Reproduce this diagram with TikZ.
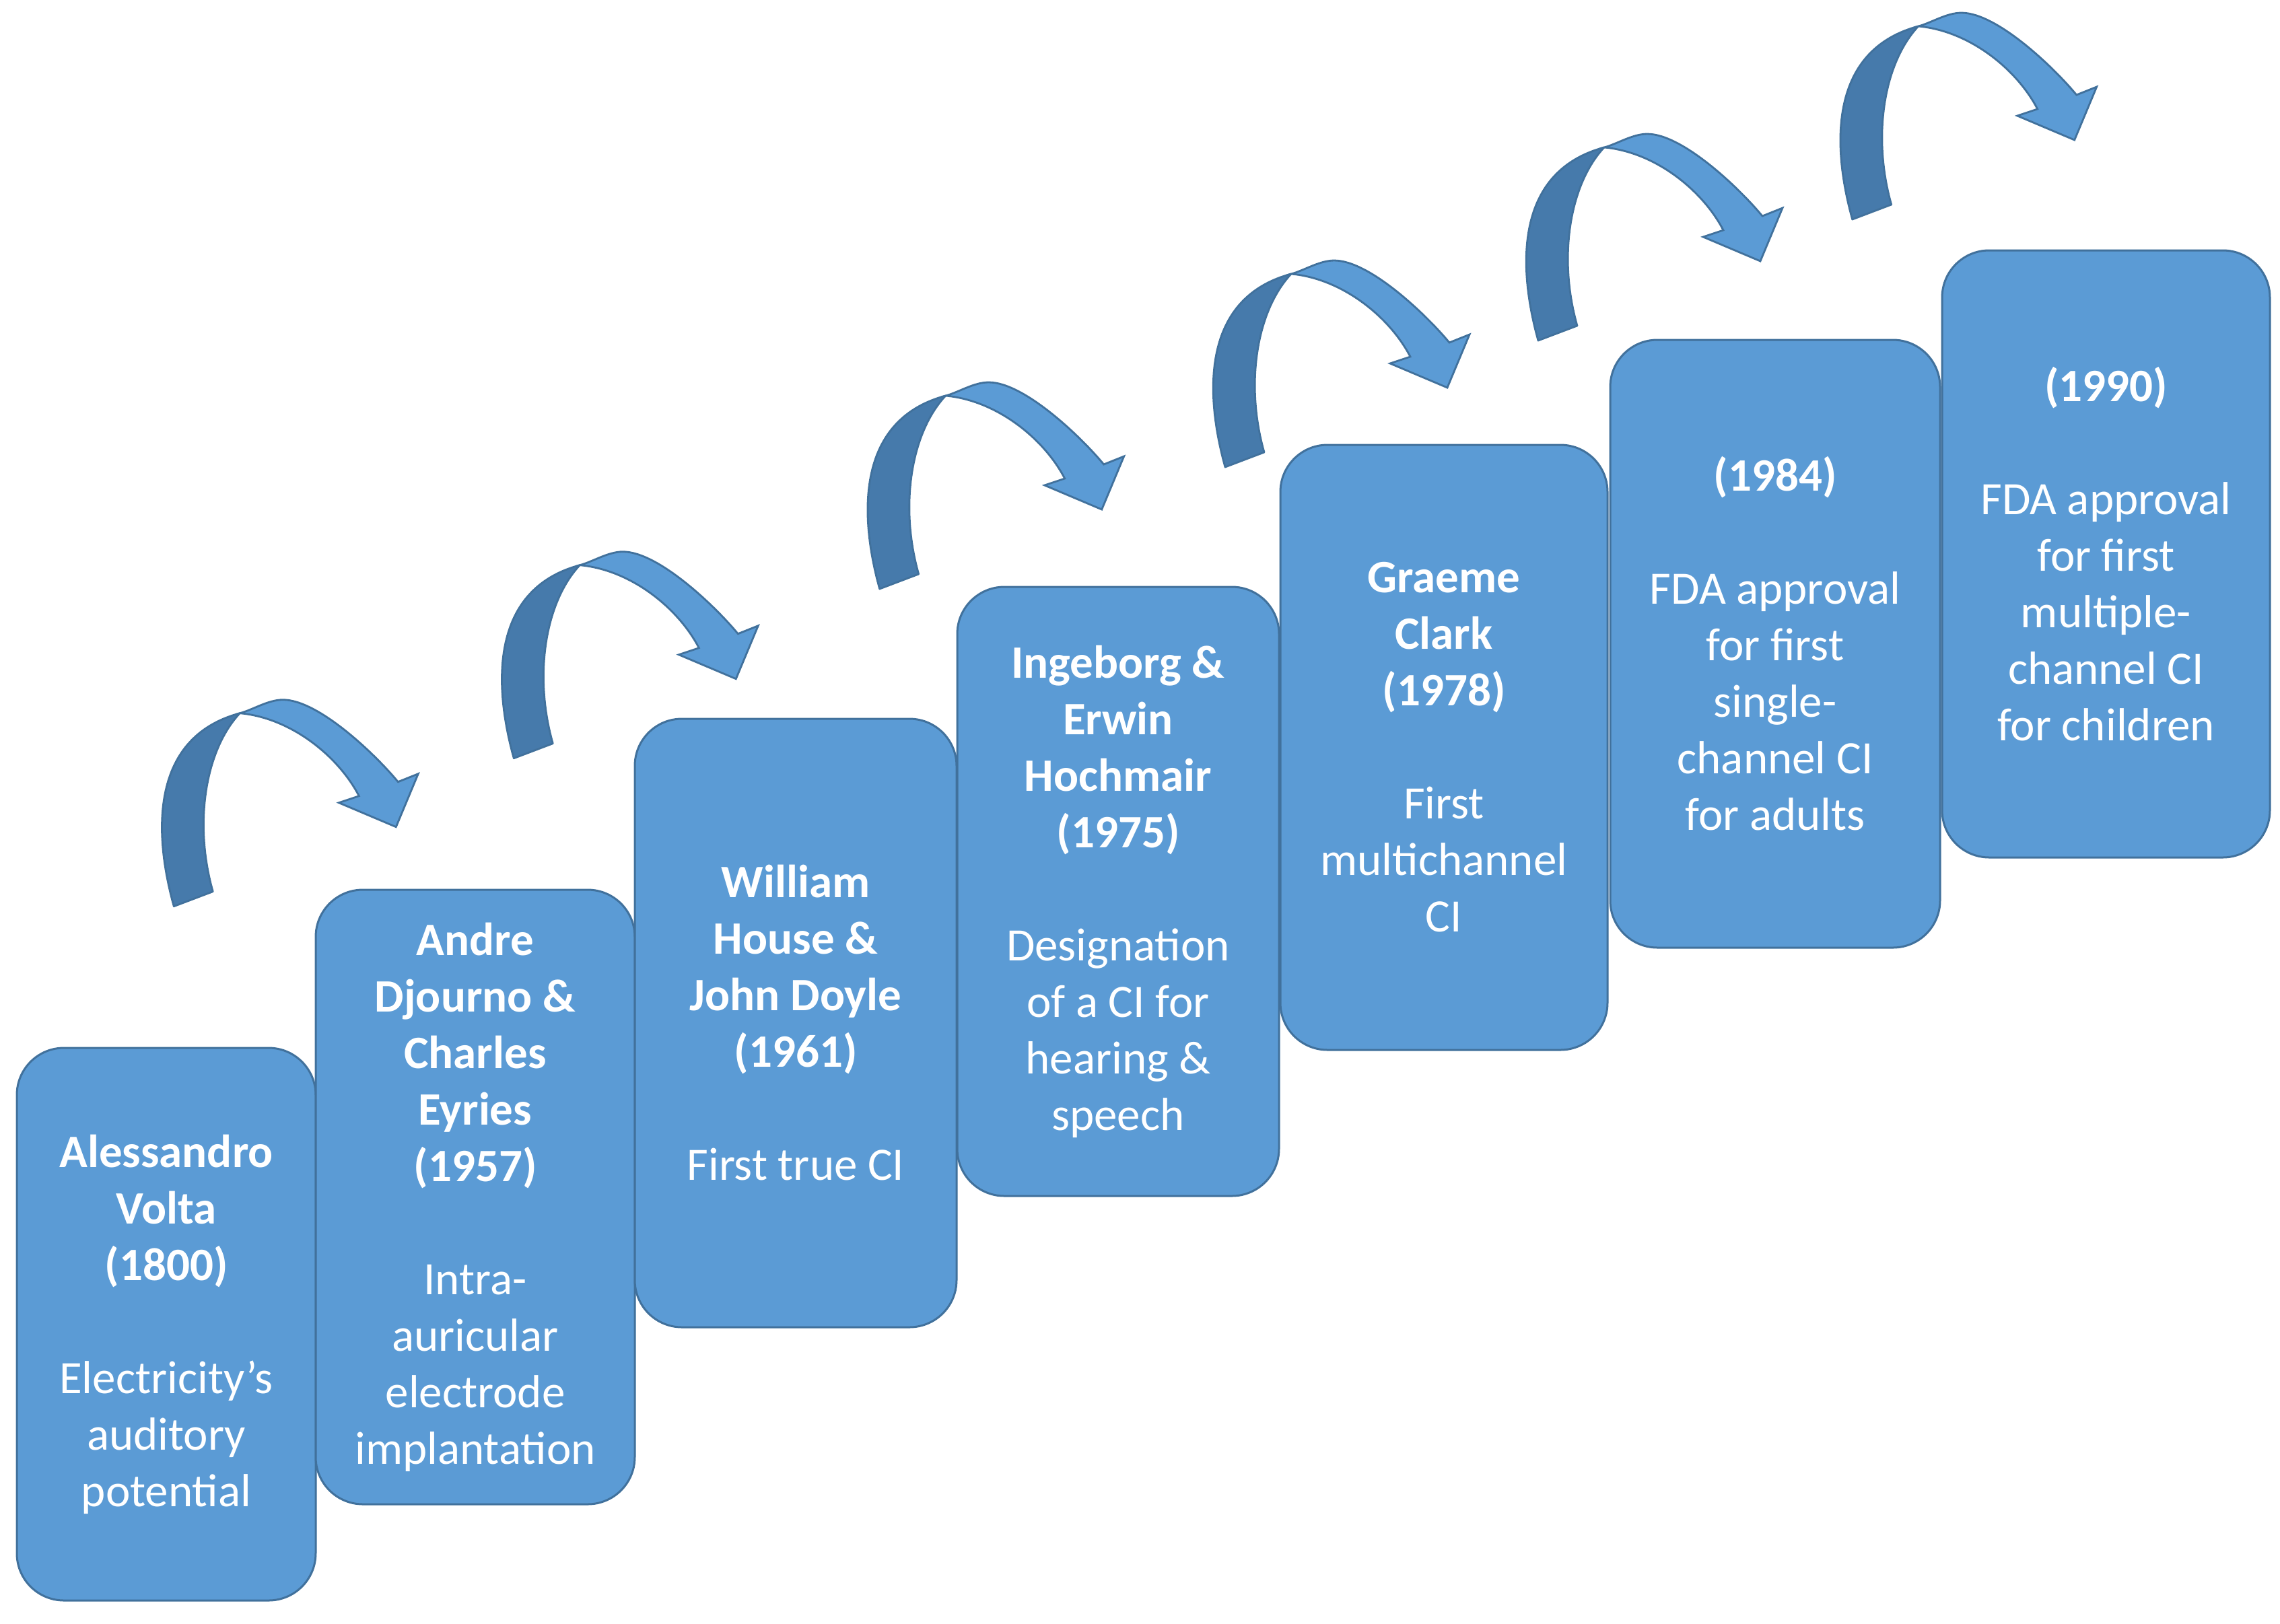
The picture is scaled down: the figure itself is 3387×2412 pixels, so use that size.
\documentclass[tikz,border=0pt]{standalone}
\usepackage{fontspec}
\setmainfont{Carlito}
\definecolor{boxfill}{HTML}{5B9BD5}
\definecolor{boxline}{HTML}{41719C}
\definecolor{backfill}{HTML}{467AAB}
\tikzset{
  stepbox/.style={draw=boxline, fill=boxfill, line width=0.75pt, rounded corners=17.5pt,
    text=white, align=center, inner sep=0pt,
    font=\fontsize{17.25}{21}\selectfont},
  curvedarrow/.pic={
    \filldraw[fill=backfill, draw=boxline, line width=0.7pt, line join=round]
      (0,0) .. controls (-28,-100) and (-40,-250) .. (98,-287)
      .. controls (45,-230) and (30,-120) .. (58,-22) -- cycle;
    \filldraw[fill=boxfill, draw=boxline, line width=0.7pt, line join=miter]
      (98,-287) .. controls (117,-292) and (140,-307) .. (162,-307)
      .. controls (215,-307) and (300,-225) .. (333,-185)
      -- (363,-197) -- (330,-118) -- (245,-154) -- (275,-164)
      .. controls (245,-222) and (175,-280) .. (98,-287) -- cycle;
  }
}
\begin{document}
\begin{tikzpicture}[x=0.25pt,y=-0.25pt]
\useasboundingbox (0,0) rectangle (3387,2412);

\node[stepbox, minimum width=111pt, minimum height=205.25pt] (b1) at (247,1967.5)
  {\textbf{Alessandro}\\\textbf{Volta}\\\textbf{(1800)}\\[21pt]Electricity’s\\auditory\\potential};
\node[stepbox, minimum width=118.5pt, minimum height=228.25pt] (b2) at (706,1778.5)
  {\textbf{Andre}\\\textbf{Djourno \&}\\\textbf{Charles}\\\textbf{Eyries}\\\textbf{(1957)}\\[21pt]Intra-\\auricular\\electrode\\implantation};
\node[stepbox, minimum width=119.5pt, minimum height=226pt] (b3) at (1182,1520)
  {\textbf{William}\\\textbf{House \&}\\\textbf{John Doyle}\\\textbf{(1961)}\\[21pt]First true CI};
\node[stepbox, minimum width=119.5pt, minimum height=226.25pt] (b4) at (1661,1324.5)
  {\textbf{Ingeborg \&}\\\textbf{Erwin}\\\textbf{Hochmair}\\\textbf{(1975)}\\[21pt]Designation\\of a CI for\\hearing \&\\speech};
\node[stepbox, minimum width=121.5pt, minimum height=224.75pt] (b5) at (2145,1110.5)
  {\textbf{Graeme}\\\textbf{Clark}\\\textbf{(1978)}\\[21pt]First\\multichannel\\CI};
\node[stepbox, minimum width=122.5pt, minimum height=225.75pt] (b6) at (2637,956.5)
  {\textbf{(1984)}\\[21pt]FDA approval\\for first\\single-\\channel CI\\for adults};
\node[stepbox, minimum width=121.75pt, minimum height=225.5pt] (b7) at (3128.5,823)
  {\textbf{(1990)}\\[21pt]FDA approval\\for first\\multiple-\\channel CI\\for children};

\pic at (258.3,1346.7) {curvedarrow};
\pic at (763.3,1126.7) {curvedarrow};
\pic at (1306.7,875) {curvedarrow};
\pic at (1820,694) {curvedarrow};
\pic at (2285,506) {curvedarrow};
\pic at (2751.7,326) {curvedarrow};
\end{tikzpicture}
\end{document}
